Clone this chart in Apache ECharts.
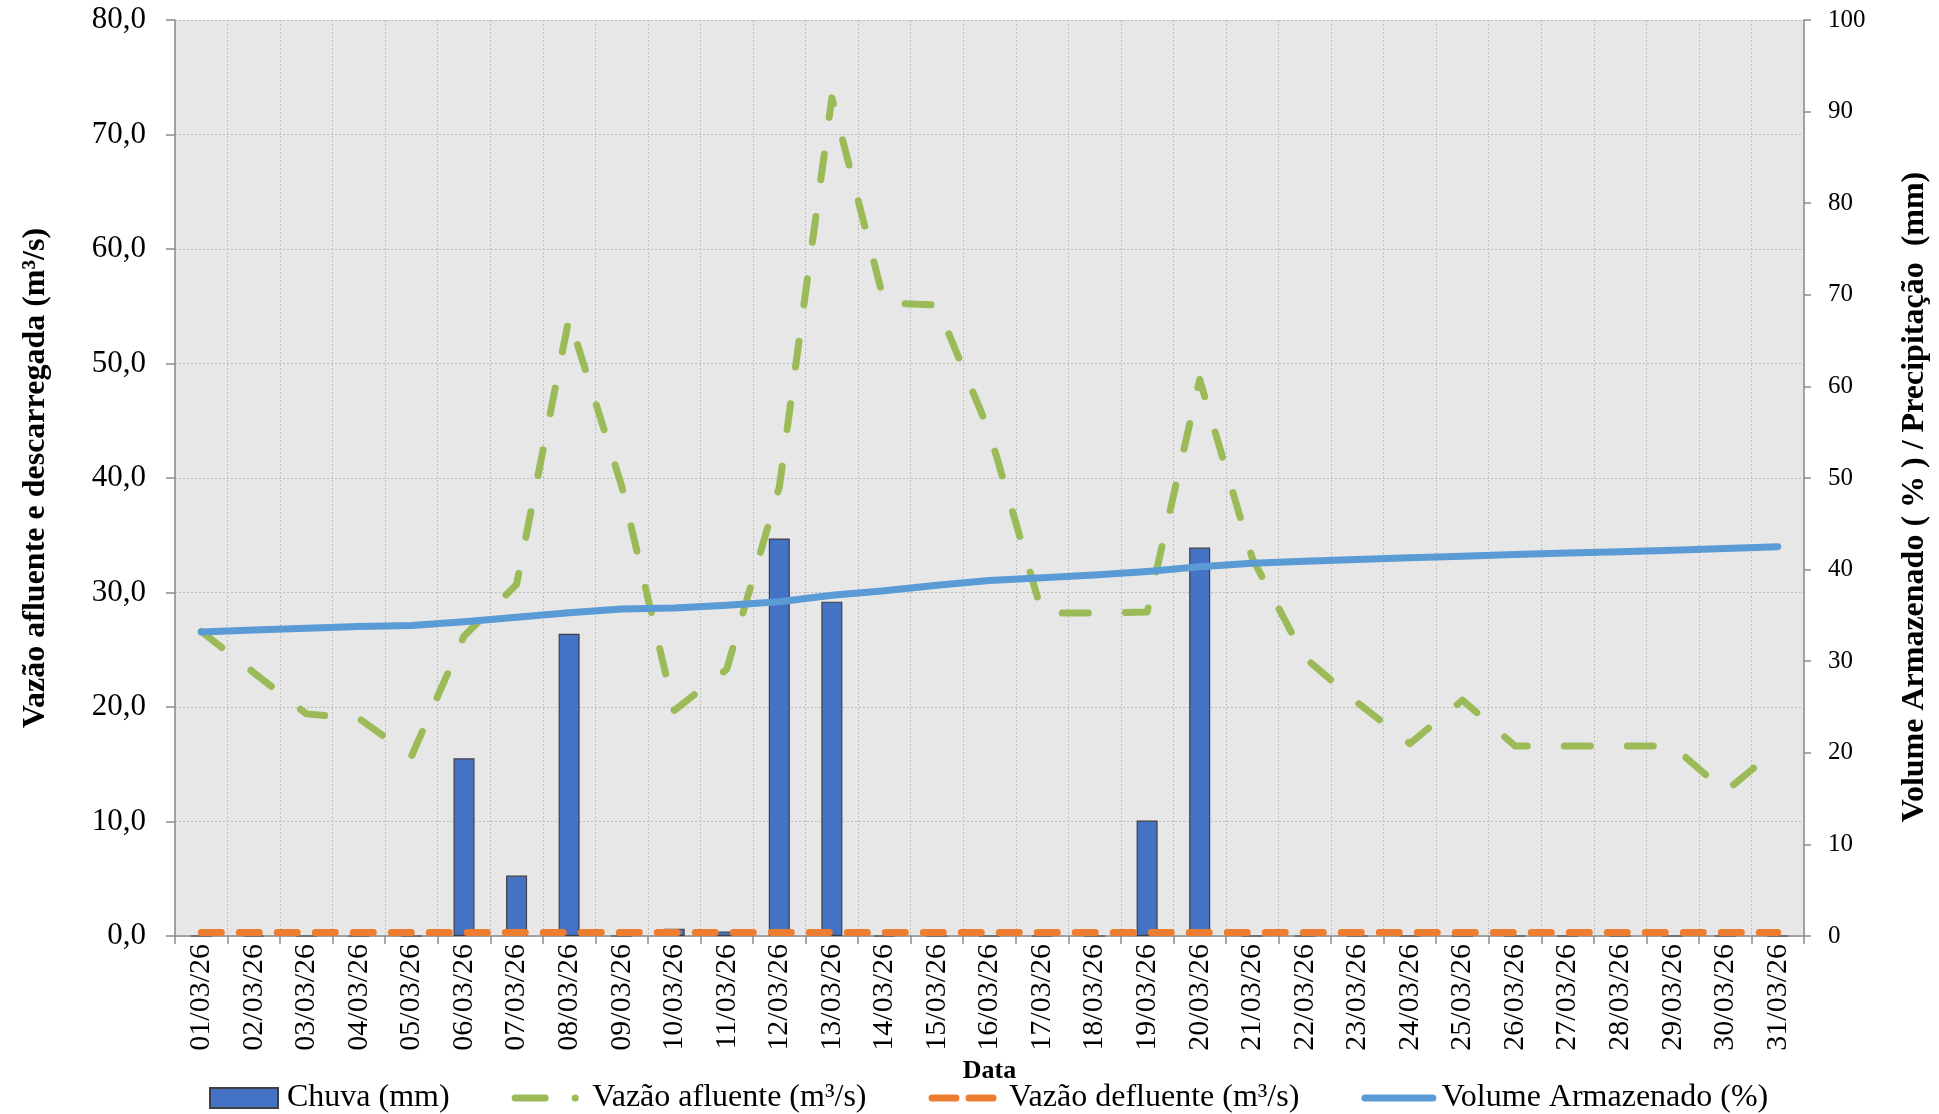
<!DOCTYPE html>
<html>
<head>
<meta charset="utf-8">
<title>Vazões e volume - março</title>
<script src="https://cdn.jsdelivr.net/npm/echarts@6/dist/echarts.min.js"></script>
<style>
html, body { margin: 0; padding: 0; background: #fff; }
#chart { width: 1939px; height: 1114px; }
</style>
</head>
<body>
<div id="chart"></div>
<script>
// datas (eixo x)
var dias = ['01/03/26', '02/03/26', '03/03/26', '04/03/26', '05/03/26', '06/03/26', '07/03/26', '08/03/26',
  '09/03/26', '10/03/26', '11/03/26', '12/03/26', '13/03/26', '14/03/26', '15/03/26', '16/03/26',
  '17/03/26', '18/03/26', '19/03/26', '20/03/26', '21/03/26', '22/03/26', '23/03/26', '24/03/26',
  '25/03/26', '26/03/26', '27/03/26', '28/03/26', '29/03/26', '30/03/26', '31/03/26'];

// chuva (mm) - eixo direito
var chuva = [0, 0, 0, 0, 0, 19.4, 6.6, 33.0, 0, 0.8, 0.5, 43.4, 36.5, 0, 0, 0,
  0, 0, 12.6, 42.4, 0, 0, 0, 0, 0, 0, 0, 0, 0, 0, 0];

// vazão afluente (m³/s) - eixo esquerdo
var vazaoAfluente = [26.6, 23.0, 19.4, 19.0, 15.7, 26.2, 30.7, 54.0, 39.3, 19.7, 23.3, 39.2, 73.2, 55.3, 55.1, 44.0,
  28.2, 28.2, 28.3, 48.6, 33.0, 24.3, 20.4, 16.8, 20.6, 16.6, 16.6, 16.6, 16.6, 12.6, 16.4];

// vazão defluente (m³/s) - eixo esquerdo
var vazaoDefluente = [0.3, 0.3, 0.3, 0.3, 0.3, 0.3, 0.3, 0.3, 0.3, 0.3, 0.3, 0.3, 0.3, 0.3, 0.3, 0.3,
  0.3, 0.3, 0.3, 0.3, 0.3, 0.3, 0.3, 0.3, 0.3, 0.3, 0.3, 0.3, 0.3, 0.3, 0.3];

// volume armazenado (%) - eixo direito
var volume = [33.2, 33.4, 33.6, 33.8, 33.9, 34.3, 34.8, 35.3, 35.7, 35.8, 36.1, 36.5, 37.2, 37.7, 38.3, 38.8,
  39.1, 39.4, 39.8, 40.3, 40.7, 40.9, 41.1, 41.3, 41.45, 41.65, 41.8, 41.95, 42.1, 42.3, 42.5];

var serif = "'Liberation Serif', 'Times New Roman', serif";
var cinza = '#8C8C8C';
var grade = { color: '#BDBDBD', width: 1, type: [2, 2] };
var semSimbolo = { opacity: 0 };

var chart = echarts.init(document.getElementById('chart'));
chart.setOption({
  animation: false,
  grid: {
    left: 175, right: 133, top: 20, bottom: 178,
    show: true, backgroundColor: '#E7E7E7', borderWidth: 0
  },
  legend: {
    left: 204,
    top: 1077,
    itemGap: 62,
    itemWidth: 68,
    itemHeight: 20,
    textStyle: { fontFamily: serif, fontSize: 32, color: '#000', padding: [0, 0, 0, 4] },
    data: [
      { name: 'Chuva (mm)', icon: 'rect' },
      { name: 'Vazão afluente (m³/s)', itemStyle: semSimbolo, lineStyle: { type: [30, 30, 0.1, 100], width: 7, cap: 'round' } },
      { name: 'Vazão defluente (m³/s)', itemStyle: semSimbolo, lineStyle: { type: [24, 13], width: 7, cap: 'round' } },
      { name: 'Volume Armazenado (%)', itemStyle: semSimbolo, lineStyle: { width: 7, cap: 'round' } }
    ]
  },
  xAxis: {
    type: 'category',
    data: dias,
    boundaryGap: true,
    name: 'Data',
    nameLocation: 'middle',
    nameGap: 112,
    nameTextStyle: { fontFamily: serif, fontWeight: 'bold', fontSize: 26, color: '#000' },
    axisLine: { lineStyle: { color: cinza, width: 1.5 } },
    axisTick: { show: true, interval: 0, length: 8, lineStyle: { color: cinza, width: 1.5 } },
    axisLabel: { interval: 0, rotate: 90, margin: 8, fontFamily: serif, fontSize: 30, color: '#000' },
    splitLine: { show: true, interval: 0, lineStyle: grade }
  },
  yAxis: [
    {
      type: 'value',
      position: 'left',
      min: 0, max: 80, interval: 10,
      name: 'Vazão afluente e descarregada (m³/s)',
      nameLocation: 'middle',
      nameRotate: 90,
      nameGap: 123,
      nameTextStyle: { fontFamily: serif, fontWeight: 'bold', fontSize: 32, color: '#000' },
      axisLine: { show: true, lineStyle: { color: cinza, width: 1.5 } },
      axisTick: { show: true, length: 9, lineStyle: { color: cinza, width: 1.5 } },
      axisLabel: {
        margin: 29, fontFamily: serif, fontSize: 31, color: '#000',
        formatter: function (v) { return v.toFixed(1).replace('.', ','); }
      },
      splitLine: { show: true, lineStyle: grade }
    },
    {
      type: 'value',
      position: 'right',
      min: 0, max: 100, interval: 10,
      name: 'Volume Armazenado ( % ) / Precipitação  (mm)',
      nameLocation: 'middle',
      nameRotate: 90,
      nameGap: 95,
      nameTextStyle: { fontFamily: serif, fontWeight: 'bold', fontSize: 32, color: '#000', padding: [0, 38, 0, 0] },
      axisLine: { show: true, lineStyle: { color: cinza, width: 1.5 } },
      axisTick: { show: true, length: 7, lineStyle: { color: cinza, width: 1.5 } },
      axisLabel: { margin: 24, fontFamily: serif, fontSize: 25, color: '#000' },
      splitLine: { show: false }
    }
  ],
  series: [
    {
      name: 'Chuva (mm)',
      type: 'bar',
      yAxisIndex: 1,
      data: chuva,
      barWidth: '40%',
      itemStyle: { color: '#4472C4', borderColor: '#404040', borderWidth: 1.2 }
    },
    {
      name: 'Vazão afluente (m³/s)',
      type: 'line',
      yAxisIndex: 0,
      data: vazaoAfluente,
      symbol: 'none',
      itemStyle: { color: '#9BBB59' },
      lineStyle: { color: '#9BBB59', width: 7, type: [26, 37], cap: 'round', join: 'round' }
    },
    {
      name: 'Vazão defluente (m³/s)',
      type: 'line',
      yAxisIndex: 0,
      data: vazaoDefluente,
      symbol: 'none',
      itemStyle: { color: '#ED7D31' },
      lineStyle: { color: '#ED7D31', width: 7, type: [20, 18], cap: 'round' }
    },
    {
      name: 'Volume Armazenado (%)',
      type: 'line',
      yAxisIndex: 1,
      data: volume,
      symbol: 'none',
      itemStyle: { color: '#5B9BD5' },
      lineStyle: { color: '#5B9BD5', width: 7, cap: 'round', join: 'round' }
    }
  ]
});
</script>
</body>
</html>
